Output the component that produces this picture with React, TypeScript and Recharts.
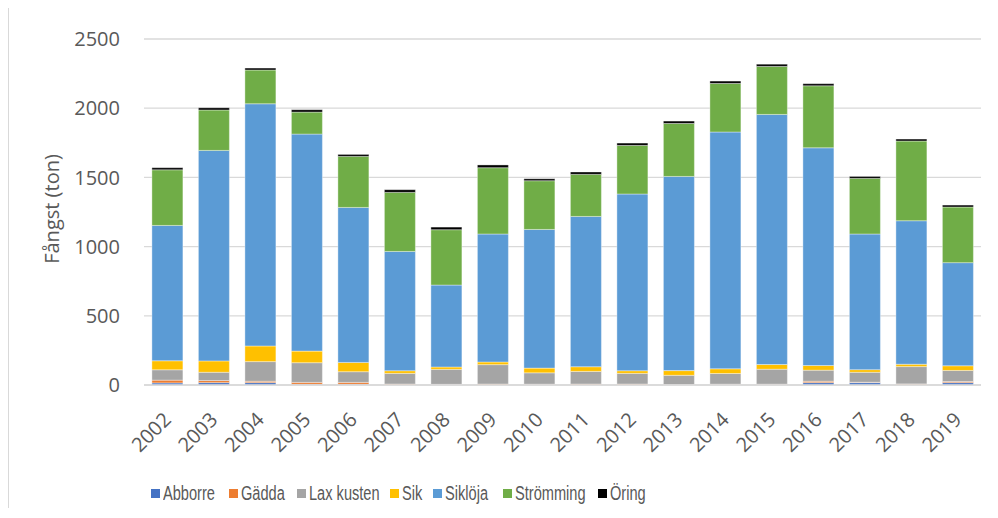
import React from "react";
import {
  BarChart,
  Bar,
  XAxis,
  YAxis,
  CartesianGrid,
  Legend,
} from "recharts";

const years = [
  "2002", "2003", "2004", "2005", "2006", "2007", "2008", "2009", "2010",
  "2011", "2012", "2013", "2014", "2015", "2016", "2017", "2018", "2019",
];

const abborre = [15, 17, 17, 5, 5, 2, 3, 2, 3, 2, 2, 1, 3, 3, 17, 17, 3, 17];
const gadda = [20, 15, 10, 14, 14, 5, 2, 5, 3, 5, 5, 2, 3, 3, 10, 3, 5, 8];
const laxKusten = [75, 60, 142, 142, 77, 77, 108, 140, 82, 91, 77, 67, 77, 108, 80, 72, 125, 80];
const sik = [65, 82, 113, 84, 67, 19, 17, 19, 34, 34, 19, 34, 34, 34, 34, 19, 17, 34];
const sikloja = [978, 1521, 1750, 1568, 1120, 862, 592, 925, 1002, 1086, 1277, 1403, 1711, 1807, 1573, 980, 1037, 745];
const stromming = [402, 292, 244, 159, 369, 427, 400, 479, 352, 304, 351, 383, 351, 347, 448, 402, 576, 402];
const oring = [15, 16, 14, 17, 14, 19, 19, 20, 14, 17, 17, 17, 17, 16, 15, 14, 14, 14];

const yTicks = [0, 500, 1000, 1500, 2000, 2500];

const series = [
  { key: "Abborre", values: abborre, color: "#4472C4" },
  { key: "Gädda", values: gadda, color: "#ED7D31" },
  { key: "Lax kusten", values: laxKusten, color: "#A5A5A5" },
  { key: "Sik", values: sik, color: "#FFC000" },
  { key: "Siklöja", values: sikloja, color: "#5B9BD5" },
  { key: "Strömming", values: stromming, color: "#70AD47" },
  { key: "Öring", values: oring, color: "#000000" },
];

// legend slot widths (square to next square), like the excel legend spacing
const legendSlots = [78, 68, 93, 43, 70, 95, 60];

const data = years.map((year, i) => {
  const row: Record<string, string | number> = { year };
  series.forEach((s) => {
    row[s.key] = s.values[i];
  });
  return row;
});

const TEXT = "#595959";
const FONT = "'Open Sans', sans-serif";

const YearTick = (props: any) => {
  const { x, y, payload } = props;
  return (
    <g transform={`translate(${x + 5},${y + 36})`}>
      <text
        transform="rotate(-45)"
        textAnchor="end"
        fill={TEXT}
        fontSize={20}
        fontFamily={FONT}
      >
        {payload.value}
      </text>
    </g>
  );
};

const AxisTitle = (props: any) => {
  const { viewBox } = props;
  const x = viewBox.x + 50;
  const y = 201;
  return (
    <text
      x={x}
      y={y}
      transform={`rotate(-90, ${x}, ${y})`}
      textAnchor="middle"
      fill={TEXT}
      fontSize={20}
      fontFamily={FONT}
    >
      Fångst (ton)
    </text>
  );
};

const LegendBox = () => (
  <div
    style={{
      display: "flex",
      alignItems: "center",
      height: 24,
      fontFamily: "'Liberation Sans', Arial, sans-serif",
      fontSize: 20,
      color: TEXT,
      whiteSpace: "nowrap",
    }}
  >
    {series.map((s, i) => (
      <div
        key={s.key}
        style={{ display: "flex", alignItems: "center", width: legendSlots[i] }}
      >
        <span
          style={{
            width: 9,
            height: 9,
            background: s.color,
            display: "inline-block",
            marginRight: 3,
            flexShrink: 0,
          }}
        />
        <span
          style={{
            display: "inline-block",
            transform: "scaleX(0.73)",
            transformOrigin: "left center",
          }}
        >
          {s.key}
        </span>
      </div>
    ))}
  </div>
);

export default function App() {
  return (
    <div style={{ borderLeft: "1px solid #d9d9d9", width: 989, height: 500 }}>
      <BarChart
        width={989}
        height={500}
        data={data}
        margin={{ top: 31, right: 17, left: 0, bottom: 3 }}
        barCategoryGap="17%"
      >
        <CartesianGrid vertical={false} stroke="#d9d9d9" strokeWidth={1.3} />
        <XAxis
          dataKey="year"
          height={96}
          tickLine={false}
          tickSize={0}
          tickMargin={0}
          axisLine={{ stroke: "#d9d9d9", strokeWidth: 1.3 }}
          interval={0}
          tick={<YearTick />}
        />
        <YAxis
          width={135}
          domain={[0, 2500]}
          ticks={yTicks}
          axisLine={false}
          tickLine={false}
          tickSize={8}
          tickMargin={16}
          tick={{ fill: TEXT, fontSize: 20, fontFamily: FONT }}
          label={{ content: <AxisTitle /> }}
        />
        <Legend
          verticalAlign="bottom"
          content={<LegendBox />}
          wrapperStyle={{ left: 142, width: "auto" }}
        />
        {series.map((s) => (
          <Bar
            key={s.key}
            dataKey={s.key}
            stackId="catch"
            fill={s.color}
            stroke="#ffffff"
            strokeOpacity={0.5}
            strokeWidth={0.75}
            isAnimationActive={false}
          />
        ))}
      </BarChart>
    </div>
  );
}
